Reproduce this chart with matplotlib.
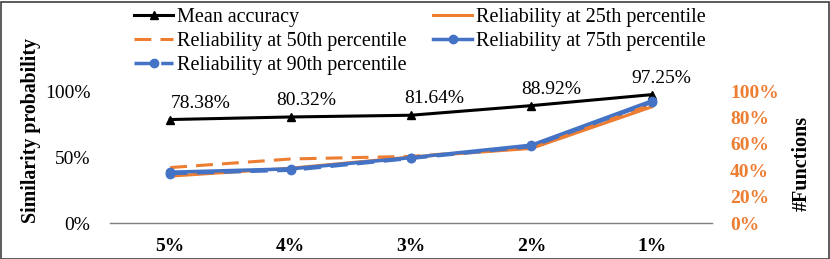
import matplotlib
matplotlib.use('Agg')
import matplotlib.pyplot as plt
from matplotlib.patches import Rectangle

categories = ['5%', '4%', '3%', '2%', '1%']
mean_acc = [78.38, 80.32, 81.64, 88.92, 97.25]
rel_p25 = [35.5, 41.5, 50.0, 56.5, 88.0]
rel_p50 = [42.0, 48.5, 50.5, 57.0, 90.0]
rel_p75 = [38.5, 41.0, 49.5, 59.0, 92.5]
rel_p90 = [37.5, 40.0, 49.0, 58.0, 91.5]
left_ticks = [0, 50, 100]
right_ticks = [0, 20, 40, 60, 80, 100]

ORANGE = '#ED7D31'
BLUE = '#4472C4'
plt.rcParams['font.family'] = ['Liberation Serif', 'DejaVu Serif']

fig = plt.figure(figsize=(8.3, 2.59), dpi=100)
ax = fig.add_axes([110 / 830, 36 / 259, 602 / 830, 132 / 259])
x = list(range(len(categories)))

l1, = ax.plot(x, mean_acc, color='black', lw=2.2, marker='^', ms=6, label='Mean accuracy')
l2, = ax.plot(x, rel_p25, color=ORANGE, lw=2.2, label='Reliability at 25th percentile')
l3, = ax.plot(x, rel_p50, color=ORANGE, lw=2.2, ls=(0, (5.5, 3)), label='Reliability at 50th percentile')
l4, = ax.plot(x, rel_p75, color=BLUE, lw=2.5, marker='o', ms=6, label='Reliability at 75th percentile')
l5, = ax.plot(x, rel_p90, color=BLUE, lw=2.5, ls=(0, (5, 2.7)), marker='o', ms=6,
              label='Reliability at 90th percentile')

# data labels on the mean accuracy line
dx = [30, 16, 23, 20, 10]
for i, v in enumerate(mean_acc):
    ax.annotate(f'{v:.2f}%', (i, v), xytext=(dx[i], 8), textcoords='offset pixels',
                ha='center', va='bottom', fontsize=14, annotation_clip=False)

ax.set_xlim(-0.5, len(categories) - 0.5)
ax.set_ylim(0, 100)
ax.set_xticks(x)
ax.set_xticklabels(categories, fontsize=14, fontweight='bold')
ax.set_yticks(left_ticks)
ax.set_yticklabels([f'{t}%' for t in left_ticks], fontsize=14)
ax.tick_params(axis='both', length=0)
ax.tick_params(axis='x', pad=11)
ax.tick_params(axis='y', pad=14)
for s in ['top', 'left', 'right']:
    ax.spines[s].set_visible(False)
ax.spines['bottom'].set_color('#7f7f7f')
ax.spines['bottom'].set_linewidth(1.0)
ax.set_ylabel('Similarity probability', fontsize=14.3, fontweight='bold')
ax.yaxis.set_label_coords(-69 / 602, 0.697)

ax2 = ax.twinx()
ax2.set_ylim(0, 100)
ax2.set_yticks(right_ticks)
ax2.set_yticklabels([f'{t}%' for t in right_ticks], fontsize=14, fontweight='bold', color=ORANGE)
ax2.tick_params(axis='y', length=0, pad=13)
for s in ax2.spines.values():
    s.set_visible(False)
ax2.set_ylabel('#Functions', fontsize=14.5, fontweight='bold')
ax2.yaxis.set_label_coords(1 + 80 / 602, 0.45)

fig.legend(handles=[l1, l3, l5, l2, l4], ncol=2, frameon=False, fontsize=14.5,
           loc='upper left', bbox_to_anchor=(126 / 830, 1.0), handlelength=1.95,
           handletextpad=0.2, columnspacing=1.3, labelspacing=0.24, borderaxespad=0)

fig.add_artist(Rectangle((0.5 / 830, 0.5 / 259), 828 / 830, 257 / 259, transform=fig.transFigure,
                         fill=False, edgecolor='#404040', lw=1.2))
fig.savefig('out.png', dpi=100)
